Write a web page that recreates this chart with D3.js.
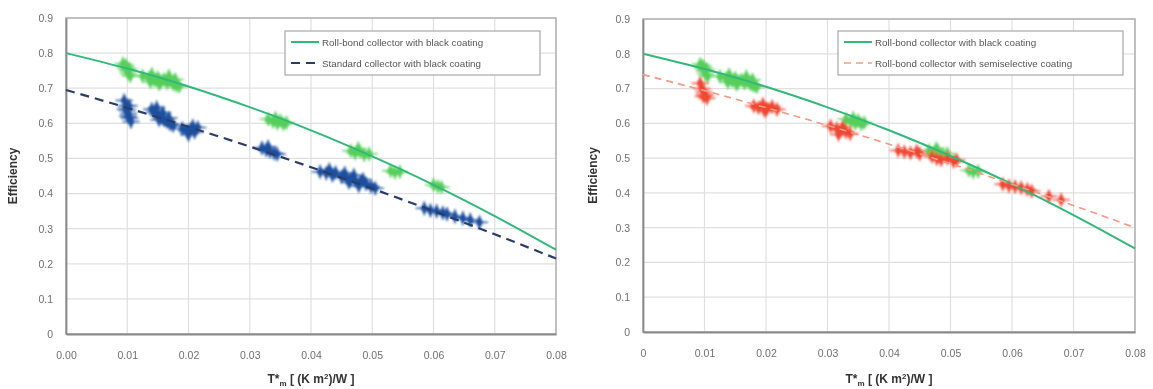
<!DOCTYPE html>
<html><head><meta charset="utf-8">
<script src="https://cdn.jsdelivr.net/npm/d3@7"></script>
<style>
html,body{margin:0;padding:0;background:#fff;}
svg{display:block;font-family:"Liberation Sans",Arial,sans-serif;}
</style></head>
<body><svg id="c" width="1153" height="389"></svg>
<script>
// ---- data ----
const xTicksLeft = ["0.00","0.01","0.02","0.03","0.04","0.05","0.06","0.07","0.08"];
const xTicksRight = ["0","0.01","0.02","0.03","0.04","0.05","0.06","0.07","0.08"];
const yTicks = ["0","0.1","0.2","0.3","0.4","0.5","0.6","0.7","0.8","0.9"];
const curveX = [0,0.01,0.02,0.03,0.04,0.05,0.06,0.07,0.08];
const rollBondBlackCurve = [0.800,0.756,0.705,0.646,0.580,0.506,0.425,0.336,0.240];
const standardBlackCurve = [0.695,0.644,0.590,0.534,0.475,0.414,0.350,0.284,0.215];
const rollBondSemiCurve  = [0.740,0.694,0.645,0.594,0.540,0.484,0.425,0.364,0.300];

const rollBondBlackPts = [
 [0.0093,0.770],[0.0097,0.758],[0.0100,0.750],[0.0102,0.742],[0.0105,0.735],[0.0098,0.765],[0.0103,0.755],
 [0.0125,0.735],[0.0135,0.728],[0.0140,0.740],[0.0145,0.722],[0.0150,0.730],[0.0155,0.718],
 [0.0160,0.725],[0.0165,0.715],[0.0170,0.722],[0.0175,0.712],[0.0180,0.708],[0.0185,0.705],
 [0.0138,0.718],[0.0152,0.712],[0.0168,0.735],[0.0178,0.725],
 [0.0330,0.612],[0.0338,0.605],[0.0345,0.600],[0.0350,0.608],[0.0355,0.598],[0.0360,0.602],[0.0342,0.615],
 [0.0465,0.522],[0.0472,0.515],[0.0480,0.520],[0.0487,0.510],[0.0495,0.513],[0.0477,0.528],
 [0.0530,0.465],[0.0537,0.460],[0.0545,0.462],
 [0.0600,0.425],[0.0607,0.420],[0.0613,0.418]
];
const standardBlackPts = [
 [0.0095,0.665],[0.0098,0.650],[0.0100,0.638],[0.0102,0.628],[0.0104,0.615],[0.0106,0.605],
 [0.0097,0.640],[0.0103,0.650],[0.0101,0.620],
 [0.0140,0.640],[0.0145,0.632],[0.0150,0.625],[0.0155,0.618],[0.0160,0.610],[0.0165,0.605],[0.0170,0.598],[0.0175,0.594],
 [0.0148,0.645],[0.0158,0.630],[0.0168,0.615],[0.0152,0.610],
 [0.0190,0.585],[0.0197,0.578],[0.0203,0.582],[0.0210,0.575],[0.0215,0.588],[0.0200,0.568],[0.0207,0.592],
 [0.0320,0.530],[0.0327,0.524],[0.0333,0.520],[0.0340,0.515],[0.0345,0.512],[0.0330,0.533],
 [0.0415,0.462],[0.0425,0.458],[0.0435,0.452],[0.0440,0.460],[0.0450,0.448],[0.0458,0.445],
 [0.0465,0.440],[0.0472,0.438],[0.0480,0.432],[0.0490,0.428],[0.0498,0.420],[0.0505,0.415],
 [0.0430,0.468],[0.0455,0.458],[0.0470,0.452],[0.0485,0.440],[0.0478,0.422],[0.0462,0.432],
 [0.0585,0.358],[0.0595,0.352],[0.0605,0.350],[0.0615,0.345],[0.0622,0.342],
 [0.0635,0.335],[0.0648,0.330],[0.0660,0.325],[0.0675,0.318]
];
const rollBondSemiPts = [
 [0.0093,0.715],[0.0096,0.700],[0.0099,0.690],[0.0101,0.682],[0.0104,0.672],[0.0098,0.678],
 [0.0180,0.650],[0.0188,0.645],[0.0195,0.655],[0.0202,0.642],[0.0210,0.648],[0.0218,0.640],[0.0198,0.635],
 [0.0305,0.592],[0.0315,0.585],[0.0322,0.580],[0.0330,0.575],[0.0337,0.570],[0.0325,0.590],[0.0318,0.568],
 [0.0415,0.522],[0.0425,0.518],[0.0435,0.515],[0.0445,0.520],[0.0450,0.512],
 [0.0470,0.505],[0.0478,0.498],[0.0485,0.495],[0.0495,0.500],[0.0505,0.490],[0.0510,0.495],
 [0.0585,0.425],[0.0595,0.420],[0.0605,0.418],[0.0615,0.415],[0.0625,0.410],[0.0632,0.405],
 [0.0660,0.390],[0.0680,0.380]
];
const xErr = 0.0014, yErr = 0.02;
const legendLeft = ["Roll-bond collector with black coating","Standard collector with black coating"];
const legendRight = ["Roll-bond collector with black coating","Roll-bond collector with semiselective coating"];

// ---- drawing ----
const svg = d3.select("#c");
const defs = svg.append("defs");
defs.append("filter").attr("id","soft").append("feGaussianBlur").attr("stdDeviation",0.9);
defs.append("filter").attr("id","all").append("feGaussianBlur").attr("stdDeviation",0.45);
const root = svg.append("g").attr("filter","url(#all)");

const C = {green:"#55cf5a", greenLine:"#33b87a", blue:"#1d4f9e", blueLine:"#2c3c68", red:"#ef4632", redLine:"#f29a86"};

function panel(opt){
  const g = root.append("g");
  const x = d3.scaleLinear().domain([0,0.08]).range([opt.x0,opt.x1]);
  const y = d3.scaleLinear().domain([0,0.9]).range([opt.y0,opt.y1]);
  g.append("g").selectAll("line").data(curveX).join("line")
    .attr("x1",d=>x(d)).attr("x2",d=>x(d)).attr("y1",opt.y1).attr("y2",opt.y0)
    .attr("stroke","#e0e0e0").attr("stroke-width",1.2);
  g.append("g").selectAll("line").data(yTicks.map(Number)).join("line")
    .attr("x1",opt.x0).attr("x2",opt.x1).attr("y1",d=>y(d)).attr("y2",d=>y(d))
    .attr("stroke","#e0e0e0").attr("stroke-width",1.2);
  g.append("rect").attr("x",opt.x0).attr("y",opt.y1).attr("width",opt.x1-opt.x0).attr("height",opt.y0-opt.y1)
    .attr("fill","none").attr("stroke","#b5b5b5").attr("stroke-width",1.6);
  const yAx = g.append("g").attr("transform",`translate(${opt.x0},0)`)
    .call(d3.axisLeft(y).tickValues(yTicks.map(Number)).tickFormat((d,i)=>yTicks[i]).tickSize(0).tickPadding(13));
  const xAx = g.append("g").attr("transform",`translate(0,${opt.y0})`)
    .call(d3.axisBottom(x).tickValues(curveX).tickFormat((d,i)=>opt.xt[i]).tickSize(0).tickPadding(18));
  [yAx,xAx].forEach(a=>{
    a.select(".domain").attr("stroke","#8a8a8a").attr("stroke-width",1.8);
    a.selectAll("text").attr("fill","#707070").style("font-size","10.5px");
  });
  const pg = g.append("g").attr("filter","url(#soft)");
  opt.series.forEach(s=>{
    const sg = pg.append("g");
    sg.selectAll("line.h").data(s.pts).join("line").attr("class","h")
      .attr("x1",d=>x(d[0]-xErr)).attr("x2",d=>x(d[0]+xErr)).attr("y1",d=>y(d[1])).attr("y2",d=>y(d[1]))
      .attr("stroke",s.c).attr("stroke-width",1.4);
    sg.selectAll("line.v").data(s.pts).join("line").attr("class","v")
      .attr("x1",d=>x(d[0])).attr("x2",d=>x(d[0])).attr("y1",d=>y(d[1]-yErr)).attr("y2",d=>y(d[1]+yErr))
      .attr("stroke",s.c).attr("stroke-width",1.4);
    sg.selectAll("path").data(s.pts).join("path")
      .attr("d",d3.symbol(d3.symbolDiamond,50))
      .attr("transform",d=>`translate(${x(d[0])},${y(d[1])})`)
      .attr("fill",s.c);
  });
  const line = d3.line().x((d,i)=>x(curveX[i])).y(d=>y(d)).curve(d3.curveMonotoneX);
  opt.lines.forEach(l=>{
    g.append("path").attr("d",line(l.v)).attr("fill","none").attr("stroke",l.c)
      .attr("stroke-width",l.w).attr("stroke-dasharray",l.dash||null);
  });
  const lg = g.append("g");
  lg.append("rect").attr("x",opt.lx).attr("y",31).attr("width",opt.lw).attr("height",44)
    .attr("fill","#fff").attr("stroke","#a8a8a8").attr("stroke-width",1.2);
  opt.lines.forEach((l,i)=>{
    const yy = 42+i*21;
    lg.append("line").attr("x1",opt.lx+6).attr("x2",opt.lx+34).attr("y1",yy).attr("y2",yy)
      .attr("stroke",l.c).attr("stroke-width",l.w).attr("stroke-dasharray",l.dash||null);
    lg.append("text").attr("x",opt.lx+37).attr("y",yy+3.5).text(opt.legend[i])
      .attr("fill","#555").style("font-size","9.8px");
  });
  g.append("text").attr("transform",`translate(${opt.yt},${(opt.y0+opt.y1)/2}) rotate(-90)`)
    .attr("text-anchor","middle").attr("fill","#333").style("font-size","12px").style("font-weight","bold")
    .text("Efficiency");
  const xt = g.append("text").attr("x",(opt.x0+opt.x1)/2).attr("y",383).attr("text-anchor","middle")
    .attr("fill","#333").style("font-size","12px").style("font-weight","bold");
  xt.append("tspan").text("T*");
  xt.append("tspan").attr("dy",3).style("font-size","8px").text("m");
  xt.append("tspan").attr("dy",-3).text(" [ (K m");
  xt.append("tspan").attr("dy",-4).style("font-size","8px").text("2");
  xt.append("tspan").attr("dy",4).text(")/W ]");
}

panel({x0:66,x1:556,y0:334,y1:18,xt:xTicksLeft,lx:285,lw:255,yt:17,legend:legendLeft,
  series:[{pts:standardBlackPts,c:C.blue},{pts:rollBondBlackPts,c:C.green}],
  lines:[{v:rollBondBlackCurve,c:C.greenLine,w:2},{v:standardBlackCurve,c:C.blueLine,w:2.2,dash:"9,6"}]});
panel({x0:643,x1:1135,y0:332,y1:19,xt:xTicksRight,lx:838,lw:285,yt:597,legend:legendRight,
  series:[{pts:rollBondBlackPts.slice(0,39),c:C.green},{pts:rollBondSemiPts,c:C.red}],
  lines:[{v:rollBondBlackCurve,c:C.greenLine,w:2},{v:rollBondSemiCurve,c:C.redLine,w:1.6,dash:"7,5"}]});
</script></body></html>
